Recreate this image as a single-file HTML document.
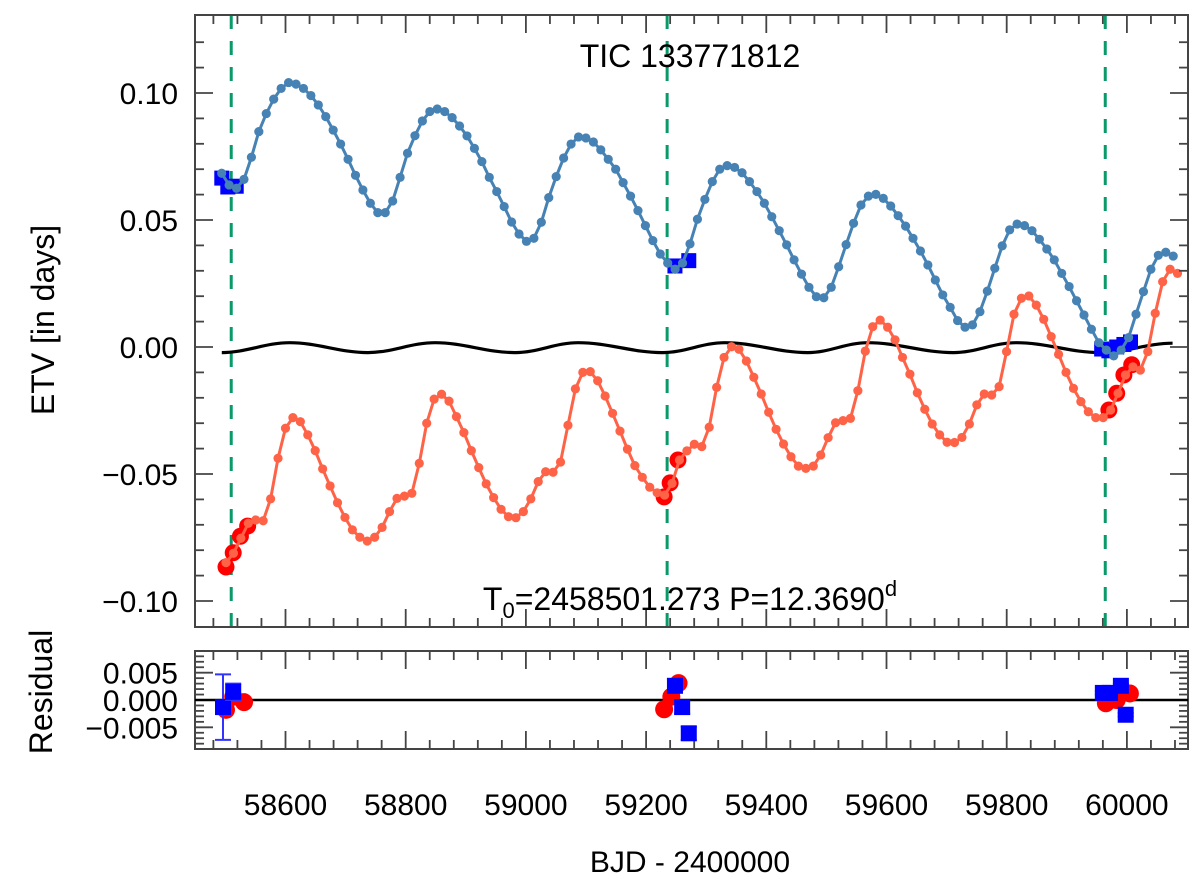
<!DOCTYPE html>
<html><head><meta charset="utf-8">
<style>
html,body{margin:0;padding:0;background:#fff;}
svg{display:block;font-family:"Liberation Sans",Arial,sans-serif;}
</style></head>
<body>
<svg id="chart" width="1200" height="892" viewBox="0 0 1200 892" xmlns="http://www.w3.org/2000/svg"></svg>
<script>
// ---- data ----
const period = 12.369;
const t0Primary = 58501.0;
const t0Secondary = 58493.8;
const blueModel = [0.0684,0.0638,0.0625,0.0660,0.0747,0.0848,0.0919,0.0976,0.1018,0.1041,0.1035,0.1018,0.0990,0.0953,0.0907,0.0854,0.0799,0.0739,0.0676,0.0618,0.0566,0.0529,0.0529,0.0575,0.0668,0.0763,0.0832,0.0890,0.0927,0.0937,0.0927,0.0903,
0.0870,0.0831,0.0782,0.0730,0.0668,0.0612,0.0553,0.0492,0.0445,0.0416,0.0428,0.0491,0.0588,0.0671,0.0744,0.0799,0.0827,0.0823,0.0807,0.0776,0.0739,0.0700,0.0647,0.0594,0.0537,0.0478,0.0419,0.0366,0.0330,0.0306,0.0330,0.0406,0.0503,0.0581,
0.0651,0.0700,0.0714,0.0707,0.0686,0.0651,0.0612,0.0566,0.0513,0.0458,0.0402,0.0343,0.0287,0.0235,0.0198,0.0194,0.0235,0.0316,0.0403,0.0487,0.0559,0.0594,0.0601,0.0585,0.0555,0.0517,0.0476,0.0428,0.0378,0.0323,0.0264,0.0205,0.0156,
0.0104,0.0078,0.0087,0.0139,0.0220,0.0310,0.0398,0.0461,0.0484,0.0478,0.0458,0.0424,0.0386,0.0343,0.0290,0.0238,0.0182,0.0126,0.0070,0.0017,-0.0012,-0.0035,-0.0012,0.0037,0.0129,0.0218,0.0306,0.0361,0.0373,0.0358];
const redModel = [-0.0849,-0.0812,-0.0753,-0.0694,-0.0681,-0.0684,-0.0598,-0.0438,-0.0320,-0.0278,-0.0294,-0.0346,-0.0408,-0.0480,-0.0547,-0.0613,-0.0671,-0.0720,-0.0749,-0.0764,-0.0749,-0.0710,-0.0648,-0.0596,-0.0587,-0.0576,-0.0458,-0.0300,-0.0205,-0.0186,-0.0213,-0.0274,
-0.0337,-0.0408,-0.0475,-0.0539,-0.0593,-0.0639,-0.0668,-0.0672,-0.0648,-0.0598,-0.0530,-0.0491,-0.0493,-0.0453,-0.0308,-0.0165,-0.0100,-0.0097,-0.0133,-0.0193,-0.0261,-0.0331,-0.0402,-0.0467,-0.0513,-0.0552,-0.0574,-0.0583,-0.0537,-0.0445,-0.0409,-0.0383,-0.0392,
-0.0316,-0.0159,-0.0041,0.0001,-0.0009,-0.0055,-0.0119,-0.0185,-0.0257,-0.0324,-0.0382,-0.0432,-0.0469,-0.0478,-0.0469,-0.0425,-0.0357,-0.0298,-0.0290,-0.0281,-0.0172,-0.0016,0.0080,0.0106,0.0078,0.0028,-0.0041,-0.0107,-0.0180,-0.0245,-0.0303,-0.0346,-0.0375,-0.0376,
-0.0356,-0.0303,-0.0228,-0.0185,-0.0189,-0.0156,-0.0018,0.0129,0.0192,0.0201,0.0165,0.0109,0.0041,-0.0029,-0.0100,-0.0163,-0.0215,-0.0255,-0.0278,-0.0278,-0.0248,-0.0182,-0.0110,-0.0078,-0.0091,-0.0018,0.0133,0.0257,0.0306,0.0290];
const blueObsT = [58494,58504,58518,59248,59271,59958,59970,59983,59995,60006];
const blueObsV = [0.0665,0.0630,0.0633,0.0319,0.0340,-0.0008,-0.0015,0.0000,0.0010,0.0020];
const redObsT = [58501,58513,58525,58537,59230,59240,59253,59970,59983,59995,60008];
const redObsV = [-0.0866,-0.0810,-0.0745,-0.0705,-0.0590,-0.0535,-0.0445,-0.0248,-0.0182,-0.0110,-0.0070];
const lteT = [58494,58607,58737,58849,58982,59087,59227,59331,59469,59569,59711,59816,59956,60076];
const lteV = [-0.0022,0.0017,-0.0022,0.0017,-0.0022,0.0017,-0.0022,0.0017,-0.0022,0.0017,-0.0022,0.0017,-0.0022,0.0015];
const dashedT = [58509.7,59235,59964];
const resBlueT = [58496,58513,59248,59260,59271,59960,59972,59990,59998];
const resBlueV = [-0.0013,0.0015,0.0026,-0.0013,-0.0061,0.0013,0.0013,0.0026,-0.0027];
const resBlueErr = [0.006,0.0015,0.0012,0.0012,0.0012,0.0003,0.0003,0.0003,0.0003];
const resRedT = [58501,58513,58531,59230,59242,59254,59965,59983,60005];
const resRedV = [-0.0018,0.0006,-0.0004,-0.0017,0.0006,0.0031,-0.0006,0.0000,0.0012];
const xTicks = [58600,58800,59000,59200,59400,59600,59800,60000];
const yTicks = [0.10,0.05,0.00,-0.05,-0.10];
const yTickLabels = ["0.10","0.05","0.00","\u22120.05","\u22120.10"];
const rTicks = [0.005,0,-0.005];
const rTickLabels = ["0.005","0.000","\u22120.005"];

// ---- geometry ----
const L=195,R=1188,MT=15,MB=627,RT=651,RB=749;
const sx = t => 285.5 + (t-58600)*0.601;
const sy = v => 347 - v*2540;
const ry = v => 700 - v*5460;
const NS='http://www.w3.org/2000/svg';
const svg=document.getElementById('chart');
function mk(tag,attrs,parent){const e=document.createElementNS(NS,tag);for(const k in attrs)e.setAttribute(k,attrs[k]);(parent||svg).appendChild(e);return e;}

const defs=mk('defs',{});
const cp=mk('clipPath',{id:'cm'},defs);mk('rect',{x:L,y:MT,width:R-L,height:MB-MT},cp);
const cp2=mk('clipPath',{id:'cr'},defs);mk('rect',{x:L,y:RT,width:R-L,height:RB-RT},cp2);

const main=mk('g',{'clip-path':'url(#cm)'});



dashedT.forEach((t,i)=>{
  const l=mk('line',{x1:sx(t),x2:sx(t),y1:MT,y2:MB,stroke:'#0a9a6a','stroke-width':3,'stroke-dasharray':'14,12'},main);
  
  
});

let d='M'+sx(lteT[0])+','+sy(lteV[0]);
for(let i=1;i<lteT.length;i++){
  const x0=sx(lteT[i-1]),y0=sy(lteV[i-1]),x1=sx(lteT[i]),y1=sy(lteV[i]);const dx=(x1-x0)*0.36;
  d+=' C'+(x0+dx)+','+y0+' '+(x1-dx)+','+y1+' '+x1+','+y1;
}
const lte=mk('path',{d:d,fill:'none',stroke:'#000','stroke-width':3.2},main);



function series(vals,t0,color,name){
  const g=mk('g',{},main);
  
  
  const pts=vals.map((v,i)=>sx(t0+period*i)+','+sy(v)).join(' ');
  mk('polyline',{points:pts,fill:'none',stroke:color,'stroke-width':3},g);
  vals.forEach((v,i)=>{
    const c=mk('circle',{cx:sx(t0+period*i),cy:sy(v),r:4.6,fill:color},g);
    
    
  });
}
const obsB=mk('g',{},main);


blueObsT.forEach((t,i)=>{
  const s=mk('rect',{x:sx(t)-7.5,y:sy(blueObsV[i])-7.5,width:15,height:15,fill:'#0000ff'},obsB);
  
  
});
const obsR=mk('g',{},main);


redObsT.forEach((t,i)=>{
  const c=mk('circle',{cx:sx(t),cy:sy(redObsV[i]),r:8.5,fill:'#ff0000'},obsR);
  
  
});
series(blueModel,t0Secondary,'#4682b4','secondary-model-series');
series(redModel,t0Primary,'#ff6347','primary-model-series');

function frame(top,bot,name){
  const f=mk('rect',{x:L,y:top,width:R-L,height:bot-top,fill:'none',stroke:'#444','stroke-width':2});
  
  
  const g=mk('g',{stroke:'#444','stroke-width':1.8});
  
  
  for(let t=58440;t<=60100;t+=40){
    const x=sx(t); if(x<L+2||x>R-2) continue;
    const len=(t%200===0)?18:9;
    mk('line',{x1:x,x2:x,y1:bot,y2:bot-len},g);
    mk('line',{x1:x,x2:x,y1:top,y2:top+len},g);
  }
}
frame(MT,MB,'main-frame');
frame(RT,RB,'residual-frame');

const gy=mk('g',{stroke:'#444','stroke-width':1.8});


for(let k=-12;k<=12;k++){
  const y=sy(k/100); if(y<MT+2||y>MB-2) continue;
  const len=(k%5===0)?18:9;
  mk('line',{x1:L,x2:L+len,y1:y,y2:y},gy);
  mk('line',{x1:R,x2:R-len,y1:y,y2:y},gy);
}
yTicks.forEach((v,i)=>{
  const t=mk('text',{x:178,y:sy(v)+11,'text-anchor':'end','font-size':30,fill:'#000'});
  t.textContent=yTickLabels[i];
  
  
});
const gr=mk('g',{stroke:'#444','stroke-width':1.8});


for(let k=-9;k<=9;k++){
  const y=ry(k/1000); if(y<RT+2||y>RB-2) continue;
  const len=(k%5===0)?18:9;
  mk('line',{x1:L,x2:L+len,y1:y,y2:y},gr);
  mk('line',{x1:R,x2:R-len,y1:y,y2:y},gr);
}
rTicks.forEach((v,i)=>{
  const t=mk('text',{x:178,y:ry(v)+11,'text-anchor':'end','font-size':30,fill:'#000'});
  t.textContent=rTickLabels[i];
  
  
});
xTicks.forEach(v=>{
  const t=mk('text',{x:sx(v),y:815,'text-anchor':'middle','font-size':30,fill:'#000'});
  t.textContent=String(v);
  
  
});

const res=mk('g',{'clip-path':'url(#cr)'});


const zl=mk('line',{x1:L,x2:R,y1:ry(0),y2:ry(0),stroke:'#000','stroke-width':2.5},res);


resRedT.forEach((t,i)=>{
  const c=mk('circle',{cx:sx(t),cy:ry(resRedV[i]),r:9,fill:'#ff0000'},res);
  
  
});
resBlueT.forEach((t,i)=>{
  const x=sx(t),y=ry(resBlueV[i]),e=resBlueErr[i]*5460;
  const g=mk('g',{stroke:'#3333ff','stroke-width':2},res);
  
  
  mk('line',{x1:x,x2:x,y1:y-e,y2:y+e},g);
  mk('line',{x1:x-8,x2:x+8,y1:y-e,y2:y-e},g);
  mk('line',{x1:x-8,x2:x+8,y1:y+e,y2:y+e},g);
  const s=mk('rect',{x:x-8,y:y-8,width:16,height:16,fill:'#0000ff'},res);
  
  
});

function txt(str,attrs,name){const t=mk('text',attrs);t.textContent=str;return t;}
txt('TIC 133771812',{x:690,y:67,'text-anchor':'middle','font-size':32,fill:'#000'},'chart-title');
const ann=mk('text',{x:690,y:610,'text-anchor':'middle','font-size':32,fill:'#000'});


ann.innerHTML='T<tspan font-size="22" dy="8">0</tspan><tspan dy="-8">=2458501.273 P=12.3690</tspan><tspan font-size="22" dy="-14">d</tspan>';
txt('ETV [in days]',{x:0,y:0,transform:'translate(54,320) rotate(-90)','text-anchor':'middle','font-size':32,fill:'#000'},'y-axis-title');
txt('Residual',{x:0,y:0,transform:'translate(52,692) rotate(-90)','text-anchor':'middle','font-size':32,fill:'#000'},'residual-axis-title');
txt('BJD - 2400000',{x:690,y:872,'text-anchor':'middle','font-size':30,fill:'#000'},'x-axis-title');
</script>
</body></html>
